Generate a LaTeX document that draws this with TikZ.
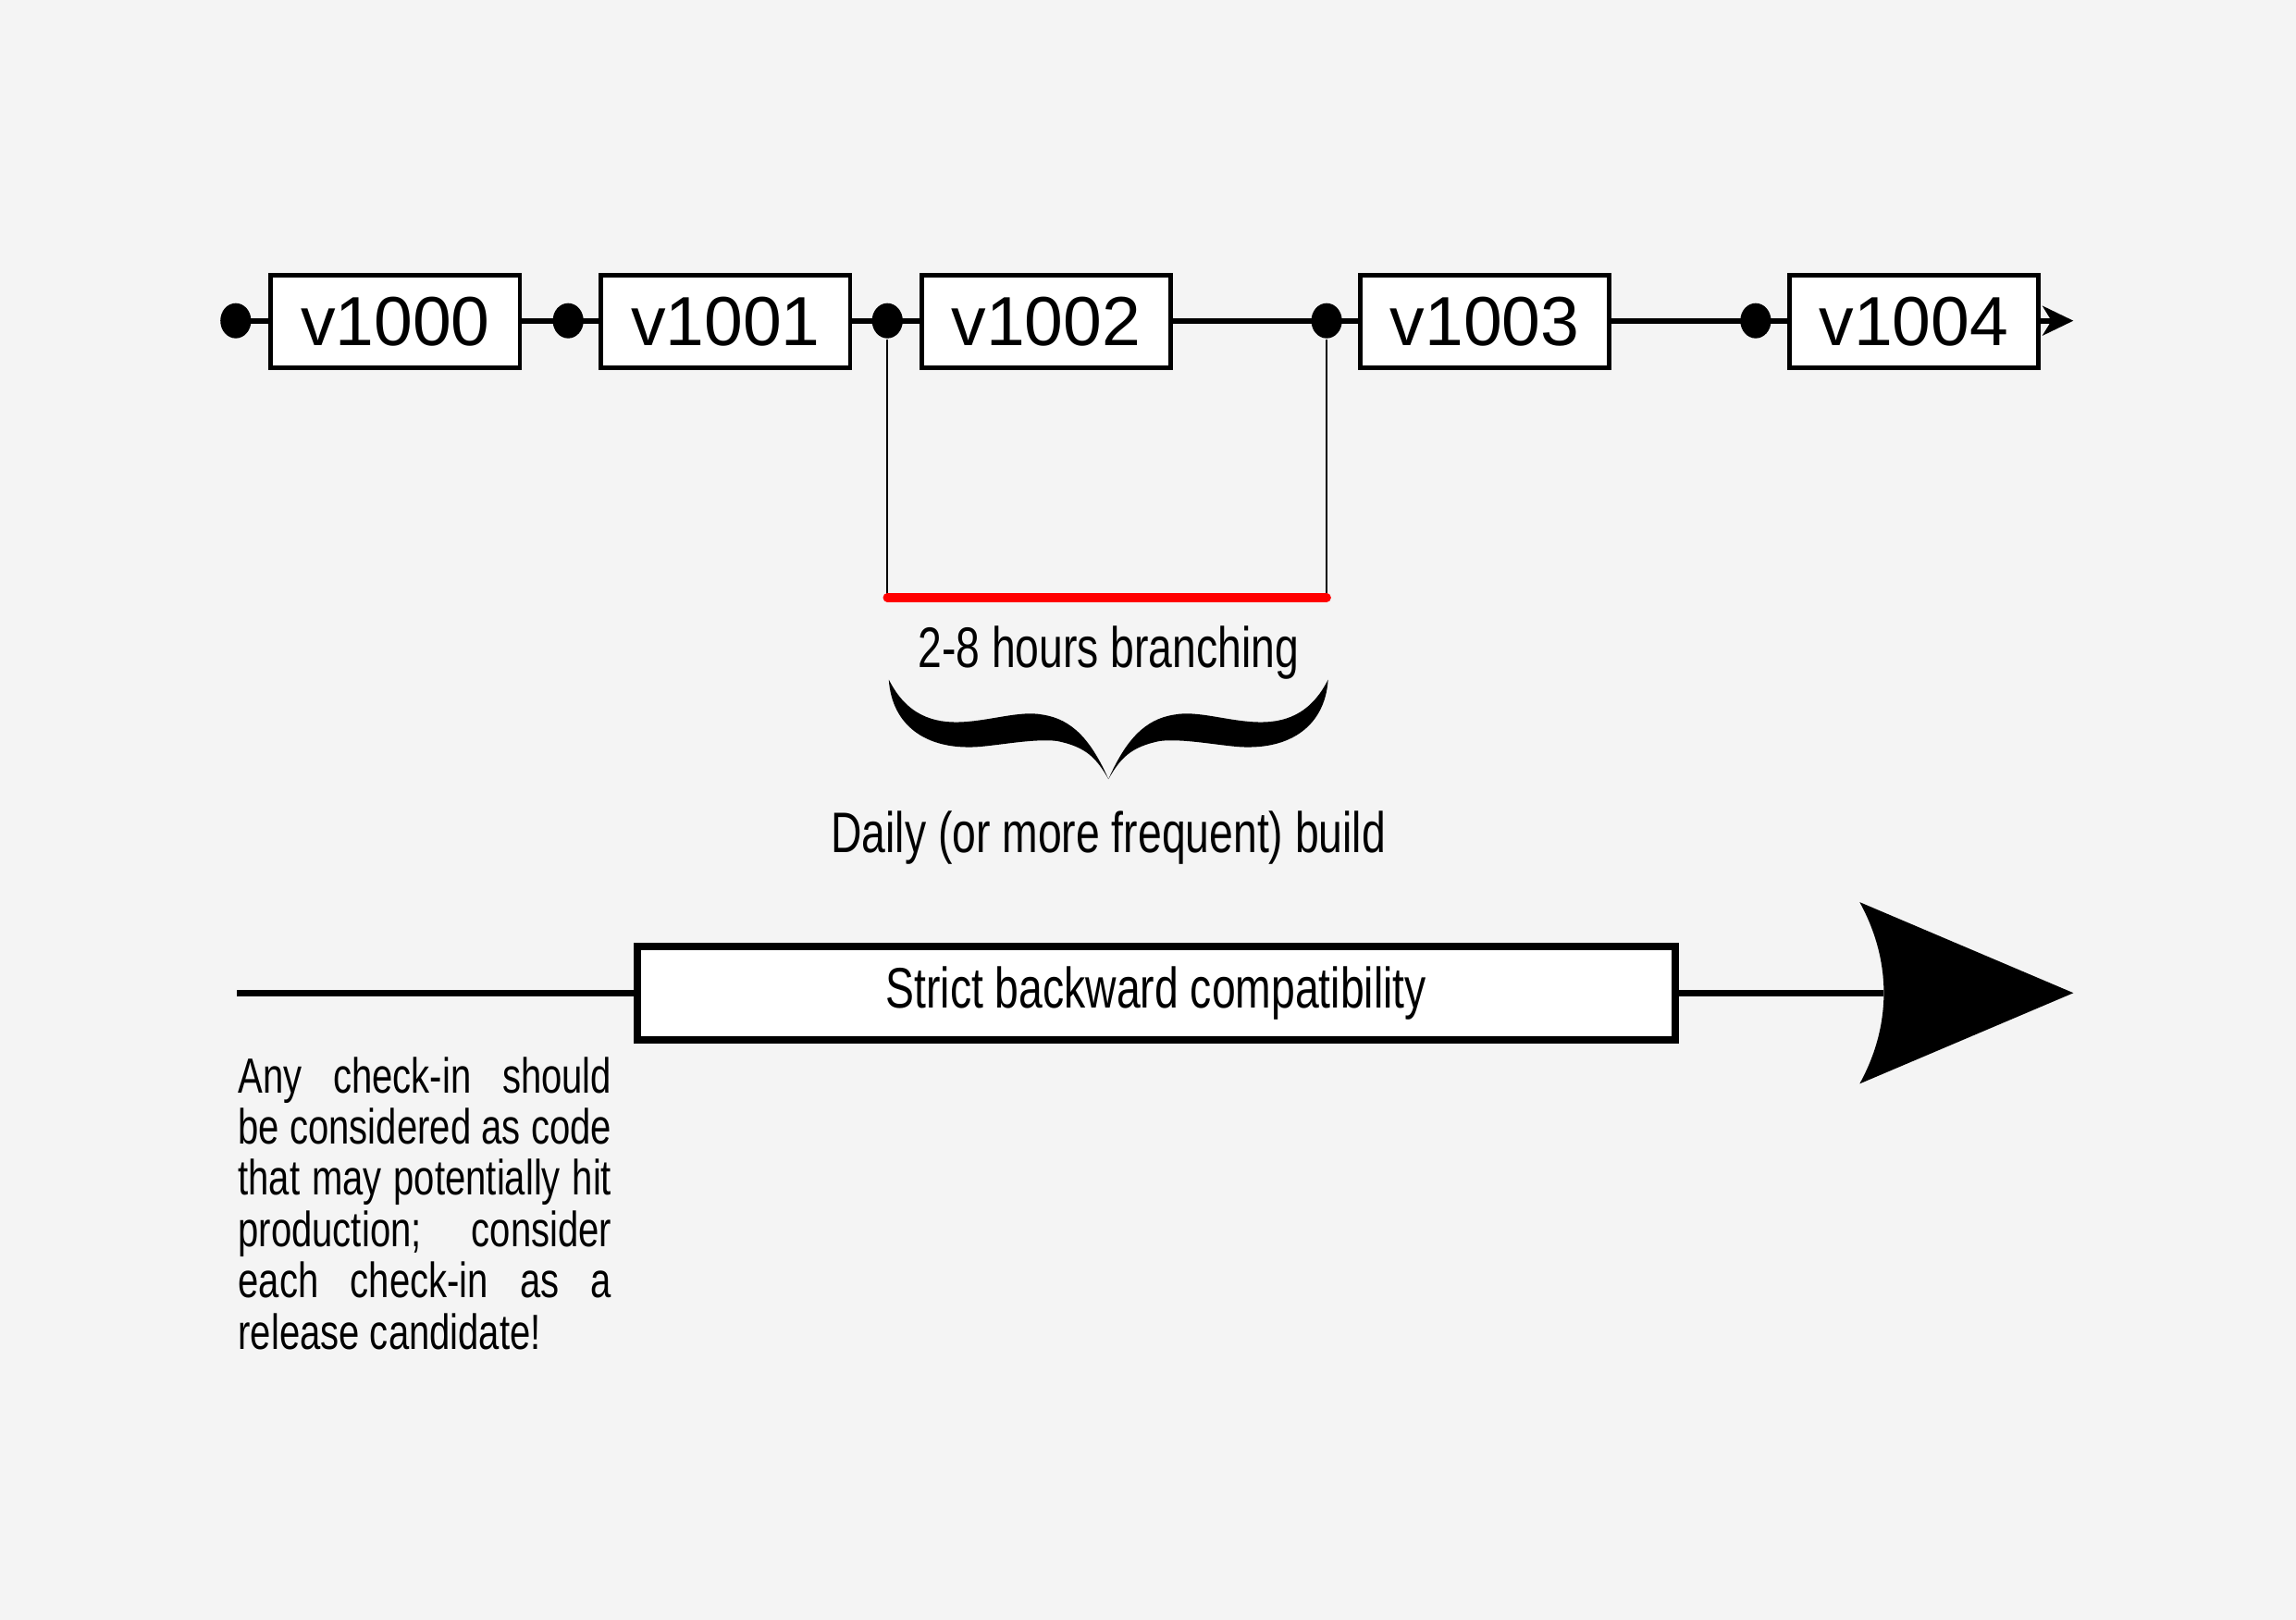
\documentclass[tikz,border=0pt]{standalone}
\usepackage{fontspec}
\setmainfont{Liberation Sans}
\newfontfamily\narrowfont[FakeStretch=0.75]{Liberation Sans}
\usepackage{tikz}
\usetikzlibrary{arrows,arrows.meta,shapes.geometric}
\pgfdeclarelayer{background}
\pgfsetlayers{background,main}
\definecolor{paper}{HTML}{F4F4F4}
\definecolor{branchred}{HTML}{FF0000}
\tikzstyle{version}=[rectangle,draw,fill=white,line width=0.3mm,minimum width=17mm,minimum height=6.3mm,inner sep=0pt,font=\fontsize{13.5}{16}\selectfont]
\tikzstyle{commit}=[ellipse,fill=black,minimum width=2.1mm,minimum height=2.4mm,inner sep=0pt]
\tikzstyle{timeline}=[draw,line width=0.4mm]
\tikzstyle{remark}=[font=\narrowfont\fontsize{11.1}{13}\selectfont,inner sep=0pt]
\tikzstyle{compatbox}=[rectangle,draw,fill=white,line width=0.5mm,minimum width=70.9mm,minimum height=6.4mm,inner sep=0pt,font=\narrowfont\fontsize{11.1}{13}\selectfont]

\begin{document}
\begin{tikzpicture}[x=0.1mm,y=-0.1mm]
				% First we draw the versions and the commit points
				\foreach \pos/\name in {{(270,219.5)/v1000}, {(495.5,219.5)/v1001}, {(714.5,219.5)/v1002},
										{(1014,219.5)/v1003}, {(1307,219.5)/v1004}}
				\node[version] (\name) at \pos {\name};

				\foreach \pos/\name in {{(161,219)/c0}, {(388,219)/c1}, {(606,219)/c2},
										{(906,219)/c3}, {(1199,219)/c4}}
				\node[commit] (\name) at \pos {};

				\coordinate (tip) at (1416,219);
				\begin{pgfonlayer}{background}
					\fill[paper] (0,0) rectangle (1568,1106);
					\path[timeline,-{Stealth[length=2.1mm,width=2mm,inset=0.6mm]}] (c0.center) -- (tip);
				\end{pgfonlayer}

				% The branching window
				\coordinate (b0) at (606,408);
				\coordinate (b1) at (906,408);
				\draw[line width=0.1mm] (c2.south) -- (b0);
				\draw[line width=0.1mm] (c3.south) -- (b1);
				\draw[branchred,line width=0.6mm,line cap=round] (b0) -- (b1);

				\node[remark,anchor=base] (hours) at (757,456) {2-8 hours branching};
				\fill[xshift=75.7mm] (-150,464) .. controls (-138,488) and (-120,494) .. (-100,493)
					.. controls (-80,492) and (-60,485) .. (-45,488) .. controls (-25,491) and (-12,505) .. (0,532)
					.. controls (12,505) and (25,491) .. (45,488) .. controls (60,485) and (80,492) .. (100,493)
					.. controls (120,494) and (138,488) .. (150,464)
					.. controls (148,495) and (125,512) .. (90,510) .. controls (75,509) and (50,504) .. (35,506)
					.. controls (15,510) and (8,518) .. (0,532)
					.. controls (-8,518) and (-15,510) .. (-35,506) .. controls (-50,504) and (-75,509) .. (-90,510)
					.. controls (-125,512) and (-148,495) .. (-150,464) -- cycle;
				\node[remark,anchor=base] (build) at (757,582) {Daily (or more frequent) build};

				% Compatibility arrow
				\coordinate (start) at (162,678);
				\coordinate (head) at (1286,678);
				\node[compatbox] (compat) at (789.5,678) {Strict backward compatibility};
				\draw[line width=0.45mm] (start) -- (compat) -- (head);
				\fill (1270,616) -- (1416,678) -- (1270,740) .. controls (1292,700) and (1292,656) .. (1270,616) -- cycle;

				\node[text width=25.5mm,align=justify,inner sep=0pt,anchor=north west,
					font=\narrowfont\fontsize{9.6}{9.96}\selectfont] (advice) at (162,721)
					{\hyphenpenalty=10000 \exhyphenpenalty=10000 Any check-in should\linebreak be considered as code\linebreak
					that may potentially hit\linebreak production; consider\linebreak each check-in as a\linebreak release candidate!};
			\end{tikzpicture}
\end{document}
